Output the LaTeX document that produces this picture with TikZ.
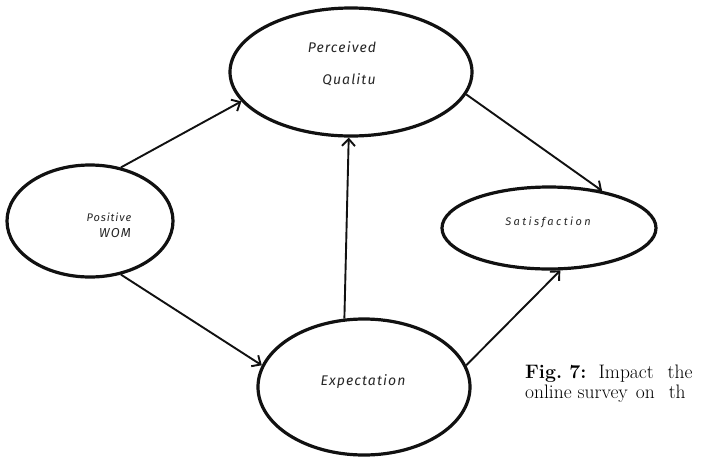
\documentclass[tikz,border=0pt]{standalone}
\usepackage{fontspec}
\usetikzlibrary{arrows.meta,shapes.geometric}
\newfontfamily\hand[LetterSpace=8]{Fira Sans}
\definecolor{ink}{HTML}{111111}
\definecolor{penc}{HTML}{262626}
\begin{document}
\begin{tikzpicture}[x=1pt,y=-1pt,
  bubble/.style={ellipse,draw=ink,line width=3.2pt,inner sep=0pt},
  handtext/.style={text=penc,align=center,font=\hand\itshape\fontsize{#1}{#1}\selectfont},
  link/.style={draw=ink,line width=1.9pt,-{Straight Barb[length=7pt,width=13pt]}},
  caption/.style={anchor=base west,inner sep=0pt,font=\fontsize{19.5}{20}\selectfont}]
  \useasboundingbox (0,0) rectangle (705,459);
  \fill[white] (0,0) rectangle (705,459);

  % construct ellipses
  \node[bubble,minimum width=242pt,minimum height=128pt] (pq)  at (351,72)  {};
  \node[bubble,minimum width=166pt,minimum height=112pt] (wom) at (90,221)  {};
  \node[bubble,minimum width=214pt,minimum height=82pt]  (sat) at (549,228) {};
  \node[bubble,minimum width=212pt,minimum height=136pt] (exp) at (364,387) {};

  % labels inside the ellipses
  \node[handtext=14] (pqtext)  at (342,64)  {Perceived\\[18pt]\hspace*{14pt}Qualitu};
  \node[handtext=11] (womtext) at (109,225) {Positive\\[5pt]\hspace*{12pt}{\fontsize{13}{13}\selectfont WOM}};
  \node[handtext=11] (sattext) at (548,222) {\addfontfeature{LetterSpace=22}Satisfaction};
  \node[handtext=14] (exptext) at (363,382) {Expectation};

  % causal links
  \draw[link] (wom.60)  -- (pq.195);
  \draw[link] (wom.300) -- (exp.168);
  \draw[link] (exp.106) -- (pq.268);
  \draw[link] (pq.349)  -- (sat.35);
  \draw[link] (exp.12)  -- (sat.285);

  % figure caption, running off the right edge
  \node[caption] (cap1) at (525,378) {\textbf{Fig.\ 7:}\hspace{12pt}Impact\hspace{14pt}the};
  \node[caption] (cap2) at (525,398) {online\hspace{6pt}survey\hspace{8pt}on\hspace{14pt}th};
\end{tikzpicture}
\end{document}
